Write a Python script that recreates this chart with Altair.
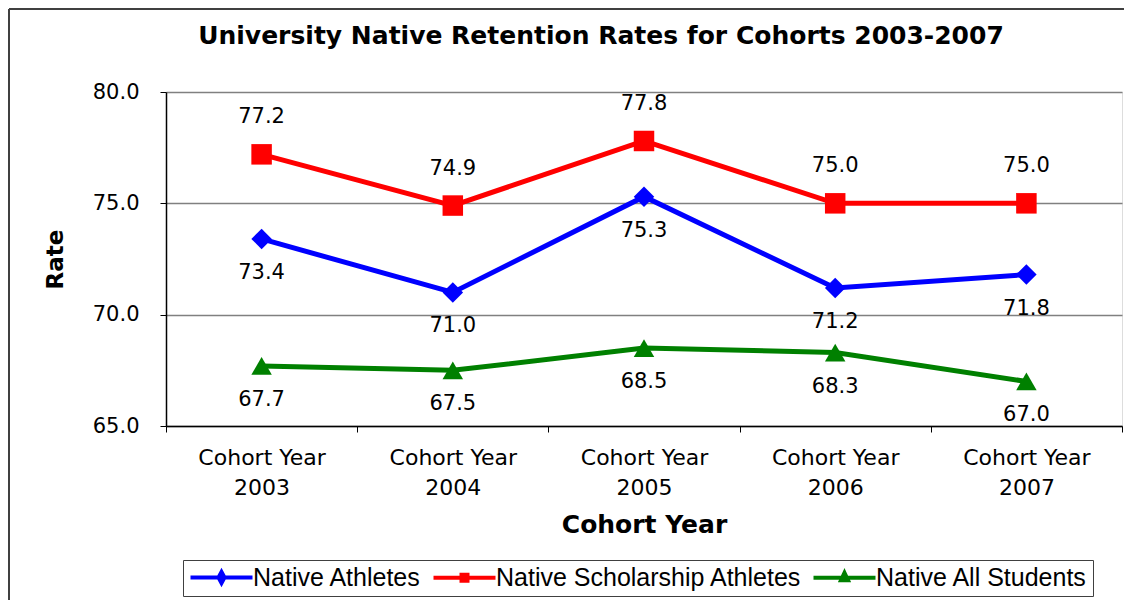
import altair as alt
import pandas as pd

years = ["2003", "2004", "2005", "2006", "2007"]
series_names = ["Native Athletes", "Native Scholarship Athletes", "Native All Students"]
athletes = [73.4, 71.0, 75.3, 71.2, 71.8]
scholarship = [77.2, 74.9, 77.8, 75.0, 75.0]
all_students = [67.7, 67.5, 68.5, 68.3, 67.0]
colors = ["#0000FF", "#FF0000", "#008000"]
shapes = ["diamond", "square", "triangle-up"]
y_ticks = [65, 70, 75, 80]
chart_title = "University Native Retention Rates for Cohorts 2003-2007"

rows = []
for name, vals in zip(series_names, [athletes, scholarship, all_students]):
    for yr, v in zip(years, vals):
        rows.append({"year": yr, "series": name, "rate": v})
df = pd.DataFrame(rows)

FONT = "DejaVu Sans"

# legend symbols: a line with the marker in its middle
legend_paths = [
    "M-1,0H5.2M2.1,-0.55L2.4,0L2.1,0.55L1.8,0Z",
    "M-1,0H5.2M1.8,-0.3H2.4V0.3H1.8Z",
    "M-1,0H5.2M2.1,-0.5L2.45,0.25H1.75Z",
]

x = alt.X(
    "year:N",
    scale=alt.Scale(type="band", paddingInner=0, paddingOuter=0),
    axis=alt.Axis(
        title="Cohort Year",
        labelExpr="datum.label ? ['Cohort Year', datum.label] : ''",
        tickBand="extent",
        labelAngle=0,
        labelFont=FONT,
        labelFontSize=22,
        labelLineHeight=30,
        labelBaseline="middle",
        labelPadding=25,
        labelColor="black",
        tickSize=6,
        tickColor="black",
        domainColor="black",
        domainWidth=1.5,
        grid=False,
        titleFont=FONT,
        titleFontSize=25,
        titleFontWeight="bold",
        titleColor="black",
        titleX=478,
        titleY=98,
        titleBaseline="middle",
        titleAlign="center",
    ),
)
y = alt.Y(
    "rate:Q",
    scale=alt.Scale(domain=[65, 80], nice=False, zero=False),
    axis=alt.Axis(
        values=y_ticks,
        format=".1f",
        title="Rate",
        labelFont=FONT,
        labelFontSize=21,
        labelColor="black",
        labelPadding=21,
        tickSize=6,
        tickColor="black",
        domainColor="black",
        domainWidth=1.5,
        grid=True,
        gridColor="#808080",
        gridWidth=1.5,
        titleFont=FONT,
        titleFontSize=23,
        titleFontWeight="bold",
        titleColor="black",
        titleX=-111,
        titleY=167,
        titleAngle=-90,
        titleBaseline="middle",
        titleAlign="center",
    ),
)

legend = alt.Legend(
    orient="none",
    legendX=17,
    legendY=468,
    direction="horizontal",
    title=None,
    strokeColor="#404040",
    fillColor="white",
    padding=5,
    labelFont="Liberation Sans",
    labelFontSize=25,
    labelColor="black",
    labelLimit=500,
    labelOffset=40,
    columnPadding=3,
    symbolSize=400,
    symbolStrokeWidth=4,
    symbolOpacity=1,
)

base = alt.Chart(df)

line_layers = [
    base.transform_filter(alt.datum.series == name).mark_line(
        strokeWidth=5, color=col
    ).encode(x=x, y=y)
    for name, col in zip(series_names, colors)
]

point_layers = [
    base.transform_filter(alt.datum.series == name).mark_point(
        filled=True, size=420, opacity=1, shape=shp, color=col
    ).encode(x=x, y=y)
    for name, shp, col in zip(series_names, shapes, colors)
]

# invisible layer (pushed out of the clipped plot) that only carries the legend
legend_layer = base.mark_point(
    filled=True, strokeWidth=4, clip=True, yOffset=3000
).encode(
    x=x,
    y=y,
    fill=alt.Fill("series:N", scale=alt.Scale(domain=series_names, range=colors), legend=legend),
    stroke=alt.Stroke("series:N", scale=alt.Scale(domain=series_names, range=colors), legend=legend),
    shape=alt.Shape("series:N", scale=alt.Scale(domain=series_names, range=legend_paths), legend=legend),
)
labels_above = base.transform_filter(
    alt.datum.series == "Native Scholarship Athletes"
).mark_text(dy=-37, font=FONT, fontSize=21, color="black", baseline="middle").encode(
    x=x, y=y, text=alt.Text("rate:Q", format=".1f")
)
labels_below = base.transform_filter(
    alt.datum.series != "Native Scholarship Athletes"
).mark_text(dy=34, font=FONT, fontSize=21, color="black", baseline="middle").encode(
    x=x, y=y, text=alt.Text("rate:Q", format=".1f")
)

one = pd.DataFrame({"k": [0]})
frame_left = alt.Chart(one).mark_rule(color="#404040", strokeWidth=2).encode(
    x=alt.value(-157), y=alt.value(-83), y2=alt.value(600)
)
frame_top = alt.Chart(one).mark_rule(color="#404040", strokeWidth=2).encode(
    x=alt.value(-157), x2=alt.value(1000), y=alt.value(-83)
)
title_text = alt.Chart(one).mark_text(
    text=chart_title, font=FONT, fontSize=25, fontWeight="bold", color="black",
    align="center", baseline="alphabetic",
).encode(x=alt.value(435), y=alt.value(-48))

chart = alt.layer(
    frame_left, frame_top, title_text, *line_layers, *point_layers, legend_layer,
    labels_above, labels_below,
).properties(
    width=956,
    height=334,
    autosize=alt.AutoSizeParams(type="none"),
    padding={"left": 158, "top": 84, "right": 2, "bottom": 174},
).configure_view(
    stroke="#808080", strokeWidth=1.5
).configure(background="white")

chart.save("out.html", embed_options={"renderer": "svg", "actions": False})
